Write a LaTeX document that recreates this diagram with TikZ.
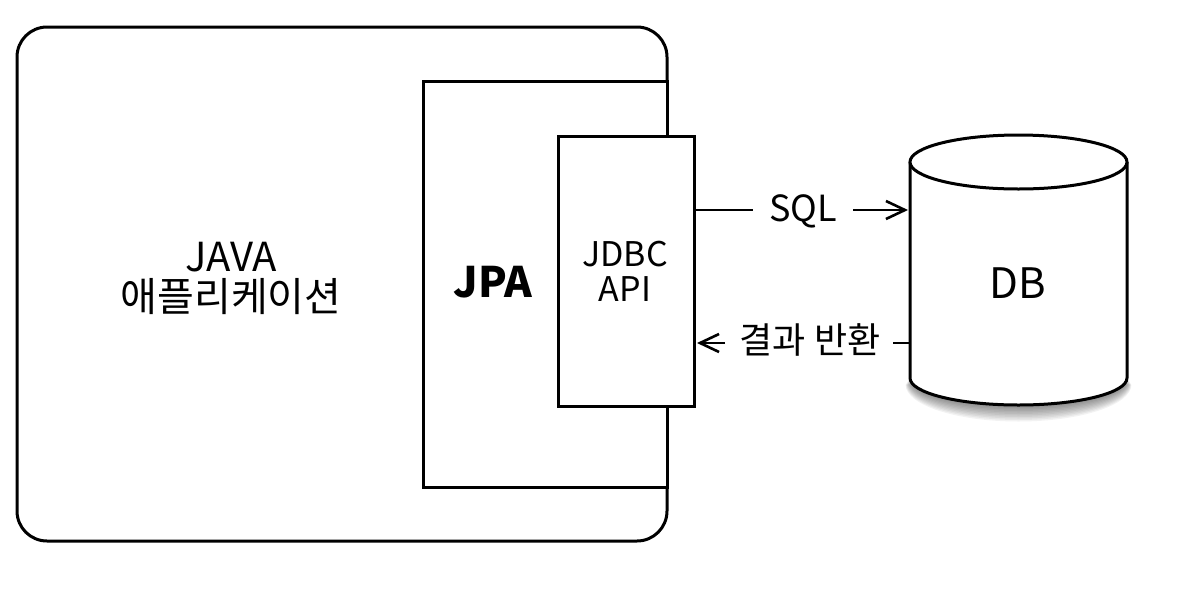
\documentclass[tikz,border=0pt]{standalone}
\usepackage{fontspec}
\setmainfont{Noto Sans CJK KR}
\usetikzlibrary{shapes.geometric,arrows.meta}
\tikzset{
  frame/.style={draw=black, line width=3pt},
  whitebox/.style={frame, fill=white},
  lbl/.style={inner sep=0pt, font=\fontsize{36}{40}\selectfont},
  flow/.style={line width=2.6pt, -{Straight Barb[length=19pt,width=18pt,line width=2.6pt]}},
  plain/.style={line width=2.6pt}
}
\begin{document}
\begin{tikzpicture}[x=1pt,y=-1pt]
\useasboundingbox (0,0) rectangle (1181,606);
% application frame
\draw[frame, rounded corners=30pt] (17,27) rectangle (667,541);
\node[lbl, font=\fontsize{40}{44}\selectfont, align=center] (java) at (231,278) {JAVA\\[-4pt]애플리케이션};
% JPA box
\draw[whitebox] (423,81) rectangle (667,487);
\node[lbl, font=\fontsize{42}{46}\selectfont\bfseries] (jpa) at (493,282) {JPA};
% JDBC box
\draw[whitebox] (558,136) rectangle (694,406);
\coordinate (jdbcR1) at (694,210);
\coordinate (jdbcR2) at (697,343);
\node[lbl, font=\fontsize{34}{38}\selectfont, align=center] (jdbc) at (625,271) {JDBC\\[-3pt]API};
% DB cylinder
\foreach \k in {1,...,11}{
  \fill[black, opacity=0.05] ({910-\k*0.4},{378+\k*0.6}) arc[start angle=180,end angle=0,x radius={108.5+\k*0.4},y radius={27+\k*0.9}] -- cycle;
}
\fill[white] (910,162) -- (910,378) arc[start angle=180,end angle=0,x radius=108.5,y radius=27] -- (1127,162) -- cycle;
\draw[frame] (910,162) -- (910,378) arc[start angle=180,end angle=0,x radius=108.5,y radius=27] -- (1127,162);
\draw[frame, fill=white] (1018.5,162) ellipse[x radius=108.5, y radius=27];
\coordinate (dbL1) at (908,210);
\coordinate (dbL2) at (910,343);
\node[lbl, font=\fontsize{42}{46}\selectfont] (db) at (1018,283) {DB};
% SQL
\node[lbl] (sql) at (803,211) {SQL};
\draw[plain] (jdbcR1) -- (753,210);
\draw[flow] (853,210) -- (dbL1);
% result
\node[lbl] (res) at (810,340) {결과 반환};
\draw[plain] (dbL2) -- (893,343);
\draw[flow] (725,343) -- (jdbcR2);
\end{tikzpicture}
\end{document}
